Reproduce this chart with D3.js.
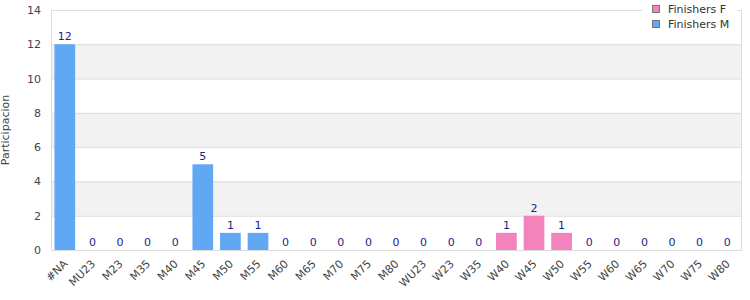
<!DOCTYPE html>
<html><head><meta charset="utf-8">
<script src="https://cdn.jsdelivr.net/npm/d3@7"></script>
<style>body{margin:0;background:#fff;font-family:"DejaVu Sans",sans-serif;}</style>
</head><body><svg id="c" width="750" height="300"></svg>
<script>
const categories = ["#NA","MU23","M23","M35","M40","M45","M50","M55","M60","M65","M70","M75","M80","WU23","W23","W35","W40","W45","W50","W55","W60","W65","W70","W75","W80"];
const finishersM = [12,0,0,0,0,5,1,1,0,0,0,0,0,0,0,0,null,null,null,null,null,null,null,null,null];
const finishersF = [null,null,null,null,null,null,null,null,null,null,null,null,null,null,null,null,1,2,1,0,0,0,0,0,0];
const yTicks = [0,2,4,6,8,10,12,14];
const seriesNames = ["Finishers F","Finishers M"];
const colors = {"Finishers F":"#f283bd","Finishers M":"#60a8f4"};

const svg = d3.select("#c");
const m = {l:51, r:741, t:10, b:250};
const x = d3.scaleBand().domain(categories).range([m.l, m.r]).paddingInner(0.25).paddingOuter(0.125);
const y = d3.scaleLinear().domain([0,14]).range([m.b, m.t]);

for (let i=0;i<yTicks.length-1;i++){
  if (yTicks[i]===2||yTicks[i]===6||yTicks[i]===10){
    svg.append("rect").attr("x",m.l).attr("width",m.r-m.l)
      .attr("y",y(yTicks[i+1])).attr("height",y(yTicks[i])-y(yTicks[i+1])).attr("fill","#f2f2f2");
  }
}
svg.selectAll("line.g").data(yTicks).enter().append("line")
  .attr("x1",m.l).attr("x2",m.r).attr("y1",d=>y(d)+0.5).attr("y2",d=>y(d)+0.5)
  .attr("stroke","#dcdcdc");
svg.append("line").attr("x1",m.l+0.5).attr("x2",m.l+0.5).attr("y1",m.t).attr("y2",m.b).attr("stroke","#dcdcdc");
svg.append("line").attr("x1",m.r+0.5).attr("x2",m.r+0.5).attr("y1",m.t).attr("y2",m.b+1).attr("stroke","#dcdcdc");

const data = categories.map((c,i)=>({c, m:finishersM[i], f:finishersF[i]}));
function drawSeries(key, name){
  const d = data.filter(e=>e[key]!==null);
  svg.selectAll("rect."+key).data(d).enter().append("rect")
    .attr("x",e=>x(e.c)).attr("width",x.bandwidth())
    .attr("y",e=>y(e[key])).attr("height",e=>y(0)-y(e[key]))
    .attr("fill",colors[name]);
  svg.selectAll("text."+key).data(d).enter().append("text")
    .attr("x",e=>x(e.c)+x.bandwidth()/2).attr("y",e=>y(e[key])-4)
    .attr("text-anchor","middle").attr("font-size",11).attr("fill","#1c1c8c")
    .text(e=>e[key]);
}
drawSeries("m","Finishers M");
drawSeries("f","Finishers F");

svg.selectAll("text.yt").data(yTicks).enter().append("text")
  .attr("x",m.l-10).attr("y",d=>y(d)+4).attr("text-anchor","end")
  .attr("font-size",11).attr("fill","#444").text(d=>d);
svg.selectAll("text.xt").data(categories).enter().append("text")
  .attr("transform",d=>`translate(${x(d)+x.bandwidth()/2-2},${m.b+9}) rotate(-45)`)
  .attr("text-anchor","end").attr("font-size",11).attr("fill","#444").attr("dy","0.7em").text(d=>d);
svg.append("text").attr("transform",`translate(9,${(m.t+m.b)/2}) rotate(-90)`)
  .attr("text-anchor","middle").attr("font-size",11).attr("fill","#444").text("Participacion");

const lg = svg.append("g");
lg.append("rect").attr("x",642).attr("y",0).attr("width",95).attr("height",34).attr("fill","#fff");
seriesNames.forEach((n,i)=>{
  lg.append("rect").attr("x",652.5).attr("y",5.5+i*15).attr("width",7).attr("height",7)
    .attr("fill",colors[n]).attr("stroke","#777");
  lg.append("text").attr("x",668).attr("y",13+i*15).attr("font-size",11).attr("fill","#333").text(n);
});
</script></body></html>
